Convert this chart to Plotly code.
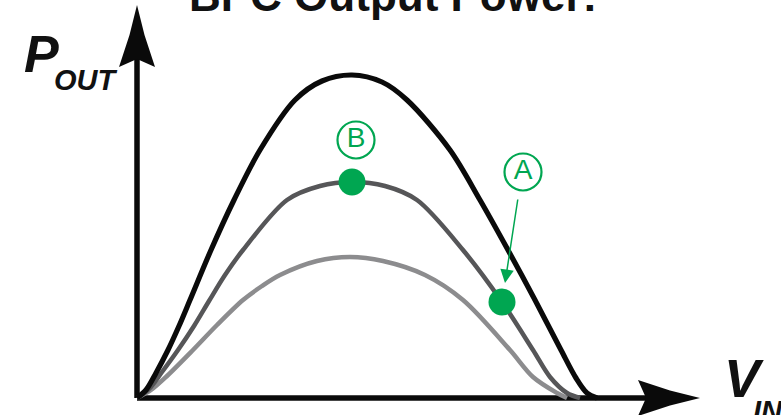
import plotly.graph_objects as go

# ---- data (V_IN, P_OUT) in arbitrary units ----
vin_high = [0, 9, 19, 31, 42, 53, 74, 97, 123, 158, 185, 215, 245, 270, 313, 343, 371, 398, 424, 439, 450, 460]
pout_high = [0, 8, 25, 48, 72, 98, 148, 198, 248, 298, 317, 323, 316, 298, 248, 198, 148, 98, 48, 20, 5, 0]

vin_mid = [0, 12, 25, 41, 57, 72, 88, 106, 150, 183, 215, 248, 280, 326, 365, 396, 413, 430, 443]
pout_mid = [0, 9, 26, 48, 72, 97, 123, 148, 198, 212, 216, 212, 198, 148, 96, 48, 21, 5, 0]

vin_low = [0, 14, 30, 56, 80, 106, 125, 143, 180, 213, 246, 288, 326, 373, 396, 420, 430]
pout_low = [0, 8, 22, 48, 73, 98, 112, 123, 137, 141, 137, 123, 98, 48, 21, 5, 0]

point_names = ["B", "A"]
point_vin = [215, 365]
point_pout = [216, 96]
label_vin = [219, 386]
label_pout = [258, 226]

title_text = "BPC Output Power:"
y_label_main, y_label_sub = "P", "OUT"
x_label_main, x_label_sub = "V", "IN"

# ---- styles ----
W, H = 781, 415
X0, Y0 = 137, 398  # pixel position of the origin
GREEN = "rgb(0,166,81)"
FONT = "Liberation Sans, Arial, Helvetica, sans-serif"
INK = "#111111"


def px(x):
    return x / W


def py(y):
    return 1 - y / H


fig = go.Figure()

# axis lines
x_end, y_end = 563, 393
head_len, head_half = 62, 18
fig.add_trace(go.Scatter(x=[0, x_end - head_len + 8], y=[0, 0], mode="lines",
                         line=dict(color="#0a0a0a", width=5.5), hoverinfo="skip"))
fig.add_trace(go.Scatter(x=[0, 0], y=[0, y_end - head_len + 8], mode="lines",
                         line=dict(color="#0a0a0a", width=5.5), hoverinfo="skip"))
# arrow heads (decoration), built relative to the axis ends
hx = [x_end, x_end - 30, x_end - head_len, x_end - head_len + 8, x_end - head_len, x_end - 30, x_end]
hy = [0, 7.5, head_half, 0, -head_half, -7.5, 0]
fig.add_trace(go.Scatter(x=hx, y=hy, mode="lines", fill="toself", fillcolor="#0a0a0a",
                         line=dict(width=0, color="#0a0a0a"), hoverinfo="skip"))
fig.add_trace(go.Scatter(x=hy, y=[y_end + v - x_end for v in hx], mode="lines", fill="toself",
                         fillcolor="#0a0a0a", line=dict(width=0, color="#0a0a0a"), hoverinfo="skip"))

# curves
for xs, ys, col, w in [(vin_low, pout_low, "rgb(140,140,142)", 4.5),
                       (vin_mid, pout_mid, "rgb(86,86,88)", 4.5),
                       (vin_high, pout_high, "#0a0a0a", 5.2)]:
    fig.add_trace(go.Scatter(x=xs, y=ys, mode="lines",
                             line=dict(color=col, width=w, shape="spline", smoothing=0.9),
                             hoverinfo="skip"))

# operating points
fig.add_trace(go.Scatter(x=point_vin, y=point_pout, mode="markers",
                         marker=dict(color=GREEN, size=27, line=dict(width=0)), hoverinfo="skip"))
# circled labels
fig.add_trace(go.Scatter(x=label_vin, y=label_pout, mode="markers+text", text=point_names,
                         textposition="middle center",
                         textfont=dict(color=GREEN, size=28, family=FONT),
                         marker=dict(symbol="circle-open", size=37, color=GREEN, line=dict(width=2.2, color=GREEN)),
                         hoverinfo="skip"))

annotations = [
    # arrow from label A to point A
    dict(x=368, y=115, ax=381, ay=200, xref="x", yref="y", axref="x", ayref="y",
         showarrow=True, arrowhead=2, arrowsize=1.8, arrowwidth=1.5, arrowcolor=GREEN, text=""),
    dict(x=px(393), y=py(-4), xref="paper", yref="paper", text="<b>" + title_text + "</b>", showarrow=False,
         xanchor="center", yanchor="middle", font=dict(size=44, color=INK, family=FONT)),
    dict(x=px(22), y=py(54), xref="paper", yref="paper", text="<b><i>" + y_label_main + "</i></b>", showarrow=False,
         xanchor="left", yanchor="middle", font=dict(size=52, color=INK, family=FONT)),
    dict(x=px(52), y=py(80), xref="paper", yref="paper", text="<b><i>" + y_label_sub + "</i></b>", showarrow=False,
         xanchor="left", yanchor="middle", font=dict(size=29, color=INK, family=FONT)),
    dict(x=px(722), y=py(378), xref="paper", yref="paper", text="<b><i>" + x_label_main + "</i></b>", showarrow=False,
         xanchor="left", yanchor="middle", font=dict(size=54, color=INK, family=FONT)),
    dict(x=px(751), y=py(411), xref="paper", yref="paper", text="<b><i>" + x_label_sub + "</i></b>", showarrow=False,
         xanchor="left", yanchor="middle", font=dict(size=29, color=INK, family=FONT)),
]

fig.update_layout(
    width=W, height=H, margin=dict(l=0, r=0, t=0, b=0),
    paper_bgcolor="white", plot_bgcolor="white", showlegend=False,
    xaxis=dict(range=[-X0, W - X0], visible=False, fixedrange=True),
    yaxis=dict(range=[Y0 - H, Y0], visible=False, fixedrange=True),
    annotations=annotations,
)
fig.write_html("out.html", config={"displayModeBar": False},
               post_script="document.body.style.margin='0px';document.body.style.overflow='hidden';")
